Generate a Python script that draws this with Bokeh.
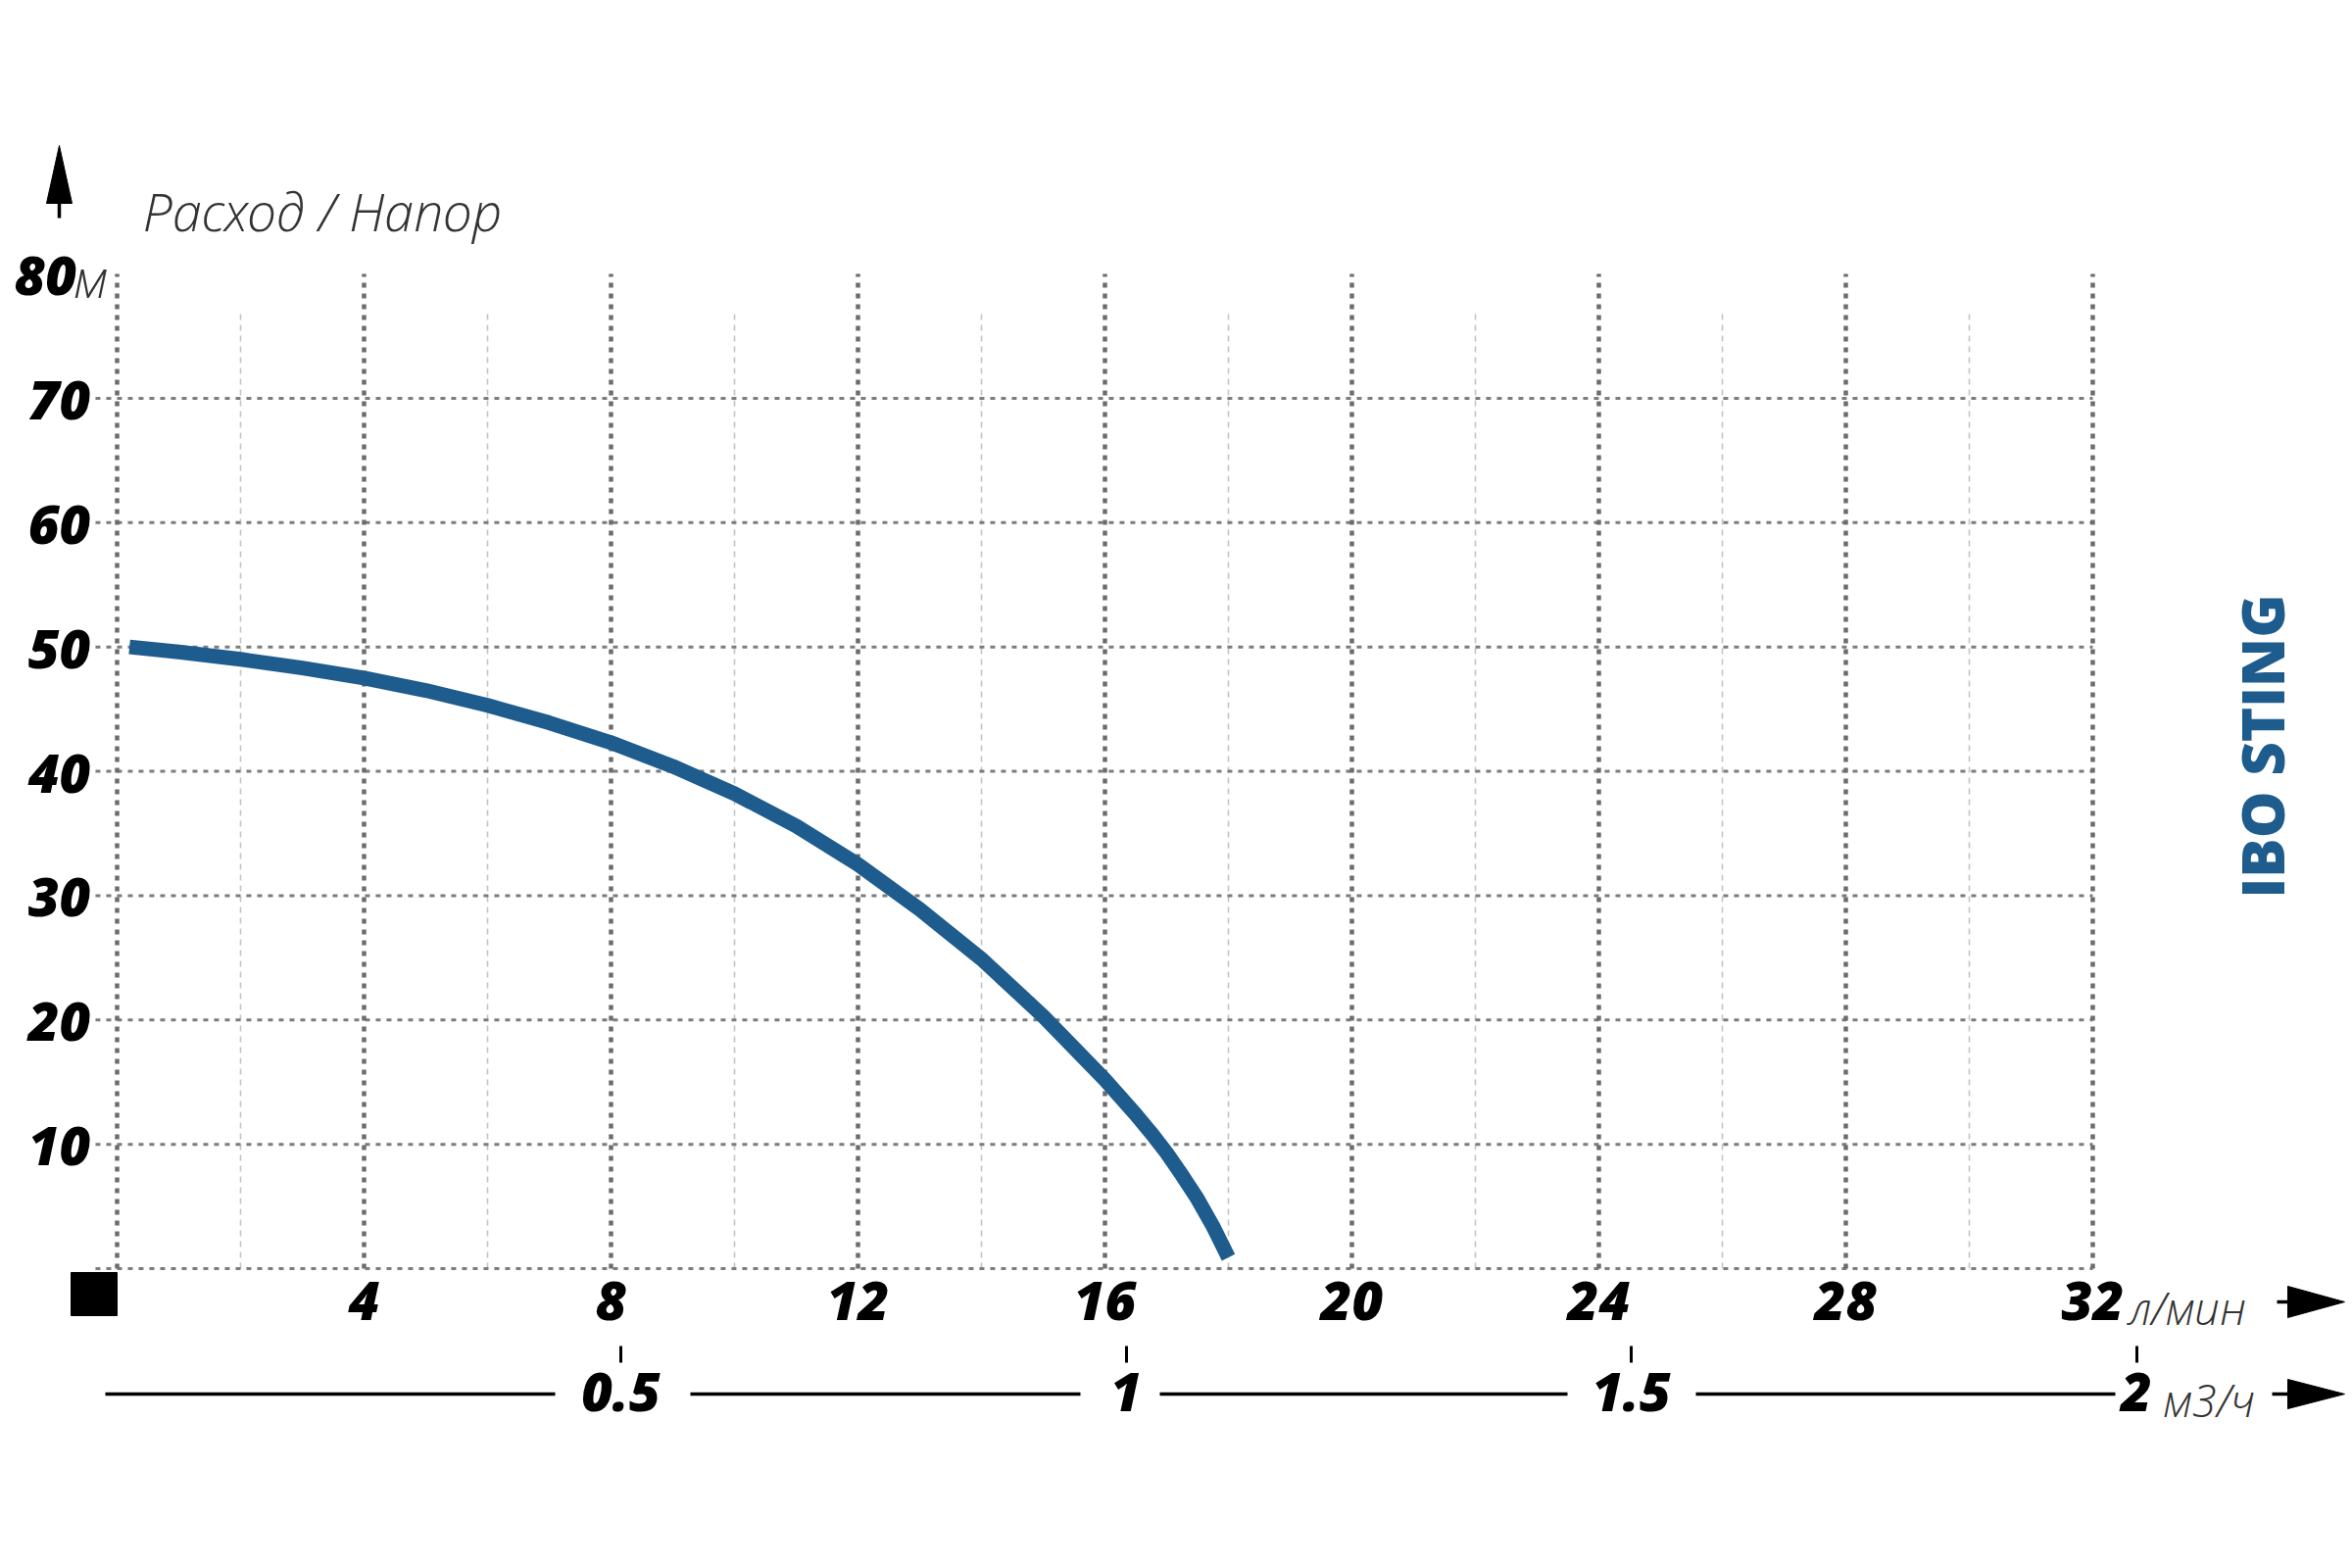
import math
from bokeh.plotting import figure
from bokeh.models import Range1d, LinearAxis, FixedTicker
from bokeh.core.properties import value
from bokeh.embed import file_html
from bokeh.resources import INLINE

# ---------------- data ----------------
flow_lpm = [0.2, 1, 2, 3, 4, 5, 6, 7, 8, 9, 10, 11, 12, 13, 14, 15, 16, 16.5, 16.75, 17,
            17.25, 17.5, 17.75, 18]
head_m = [50.0, 49.6, 49.0, 48.3, 47.5, 46.5, 45.3, 43.9, 42.3, 40.4, 38.2, 35.6, 32.5,
          28.9, 24.9, 20.3, 15.2, 12.4, 10.9, 9.3, 7.5, 5.6, 3.4, 0.9]

x_ticks = [4, 8, 12, 16, 20, 24, 28, 32]
x_major_lines = [0, 4, 8, 12, 16, 20, 24, 28, 32]
x_minor_lines = [2, 6, 10, 14, 18, 22, 26, 30]
y_ticks = [10, 20, 30, 40, 50, 60, 70, 80]
y_lines = [0, 10, 20, 30, 40, 50, 60, 70]
m3h_ticks = [0.5, 1, 1.5, 2]
m3h_labels = ["0.5", "1", "1.5", "2"]

title_text = "Расход / Напор"
brand_text = "IBO STING"
unit_y = "м"
unit_x = "л/мин"
unit_x2 = "м3/ч"

# ---------------- geometry (page pixels -> data) ----------------
W, H = 2400, 1600
X0P, XPX = 119.0, 63.0            # page px of 0 l/min, px per l/min
Y0P, YPX = 1294.0, 1015.0 / 80.0  # page px of 0 m, px per m
M0P, MPX = 117.5, 1031.0          # page px of 0 m3/h, px per m3/h (as drawn)


def px_x(page):
    return (page - X0P) / XPX


def px_y(page):
    return (Y0P - page) / YPX


BLUE = "#1f5c8e"
BOLD_FONT = "Open Sans ExtraBold, Open Sans"
LIGHT_FONT = "Open Sans Light, Open Sans"
TICK_SIZE = "55px"

p = figure(width=W, height=H, output_backend="svg", toolbar_location=None,
           x_range=Range1d(px_x(0), px_x(W)), y_range=Range1d(px_y(H), px_y(0)),
           x_axis_location=None, y_axis_location=None,
           min_border_left=0, min_border_right=0, min_border_top=0,
           min_border_bottom=0)
p.extra_x_ranges = {"m3h": Range1d((0 - M0P) / MPX, (W - M0P) / MPX)}
p.outline_line_color = None
p.background_fill_color = "white"
p.border_fill_color = "white"
p.grid.visible = False

# ---------------- grid ----------------
p.segment(x0=x_minor_lines, y0=[0] * len(x_minor_lines), x1=x_minor_lines,
          y1=[77] * len(x_minor_lines), line_color="#c4c4c4", line_width=1.6,
          line_dash="6 5")
p.segment(x0=[-0.35] * len(y_lines), y0=y_lines, x1=[32] * len(y_lines), y1=y_lines,
          line_color="#7c7c7c", line_width=3, line_dash="5 6")
p.segment(x0=x_major_lines, y0=[0] * len(x_major_lines), x1=x_major_lines,
          y1=[80] * len(x_major_lines), line_color="#6c6c6c", line_width=4.5,
          line_dash="5 6")

# ---------------- curve ----------------
p.line(flow_lpm, head_m, line_color=BLUE, line_width=15, line_cap="butt",
       line_join="round")


# ---------------- axes (fixed inside the canvas) ----------------
def style_axis(ax):
    ax.axis_line_color = None
    ax.minor_tick_line_color = None
    ax.major_label_text_font = BOLD_FONT
    ax.major_label_text_font_style = "bold italic"
    ax.major_label_text_font_size = TICK_SIZE
    ax.major_label_text_color = "black"


ya = LinearAxis(ticker=FixedTicker(ticks=y_ticks), fixed_location=px_x(100))
style_axis(ya)
ya.major_label_overrides = {80: "80\u00a0"}
ya.major_tick_line_color = None
ya.major_tick_in = 0
ya.major_tick_out = 0
ya.major_label_standoff = 8
p.add_layout(ya, "left")

xa = LinearAxis(ticker=FixedTicker(ticks=x_ticks), fixed_location=px_y(1297))
style_axis(xa)
xa.major_tick_line_color = None
xa.major_tick_in = 0
xa.major_tick_out = 0
xa.major_label_standoff = 10
p.add_layout(xa, "below")

xa2 = LinearAxis(x_range_name="m3h", ticker=FixedTicker(ticks=m3h_ticks),
                 fixed_location=px_y(1373))
style_axis(xa2)
xa2.major_label_overrides = {t: s for t, s in zip(m3h_ticks, m3h_labels)}
xa2.major_tick_line_color = "black"
xa2.major_tick_line_width = 3
xa2.major_tick_in = 0
xa2.major_tick_out = 17
xa2.major_label_standoff = 10
p.add_layout(xa2, "below")


# ---------------- texts ----------------
def light_text(xp, yp, txt, size):
    p.text(x=[px_x(xp)], y=[px_y(yp)], text=[txt], text_font=value(LIGHT_FONT),
           text_font_style="italic", text_font_size=size, text_color="#333333",
           text_baseline="alphabetic", text_align="left")


light_text(145, 214, title_text, "54px")
light_text(75, 282, unit_y, "54px")
light_text(2172, 1333, unit_x, "46px")
light_text(2207, 1427, unit_x2, "46px")
p.text(x=[px_x(2307)], y=[px_y(761)], text=[brand_text], angle=math.pi / 2,
       text_font=value(BOLD_FONT), text_font_style="bold", text_font_size="60px",
       text_color=BLUE, text_baseline="middle", text_align="center")

# ---------------- arrows, axis line, origin square ----------------
seg_l = [107, 704, 1183, 1730, 2318, 2323, 60]
seg_r = [566, 1102, 1599, 2158, 2340, 2340, 60]
seg_t = [1422, 1422, 1422, 1422, 1422, 1328, 222]
seg_b = [1422, 1422, 1422, 1422, 1422, 1328, 195]
p.segment(x0=[px_x(v) for v in seg_l], y0=[px_y(v) for v in seg_t],
          x1=[px_x(v) for v in seg_r], y1=[px_y(v) for v in seg_b],
          line_color="black", line_width=3.5)

tri_xs = [[2334, 2392, 2334], [2334, 2392, 2334], [47, 60, 73]]
tri_ys = [[1407, 1422, 1437], [1312, 1328, 1344], [207, 148, 207]]
p.patches(xs=[[px_x(v) for v in t] for t in tri_xs],
          ys=[[px_y(v) for v in t] for t in tri_ys],
          fill_color="black", line_color="black", line_width=1)

p.quad(left=[px_x(72)], right=[px_x(119)], top=[px_y(1298)], bottom=[px_y(1342)],
       fill_color="black", line_color="black")

open("out.html", "w").write(file_html(p, INLINE))
